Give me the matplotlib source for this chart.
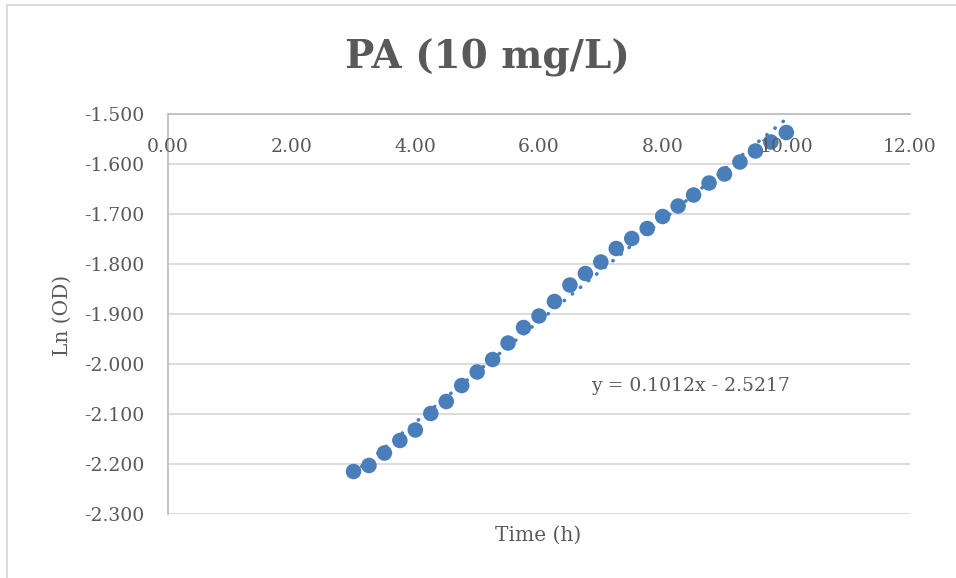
import matplotlib
matplotlib.use("Agg")
import matplotlib.pyplot as plt
from matplotlib.lines import Line2D
import numpy as np

# Growth data: time (h) vs natural log of optical density
time_h = [3.00, 3.25, 3.50, 3.75, 4.00, 4.25, 4.50, 4.75, 5.00, 5.25,
          5.50, 5.75, 6.00, 6.25, 6.50, 6.75, 7.00, 7.25, 7.50, 7.75,
          8.00, 8.25, 8.50, 8.75, 9.00, 9.25, 9.50, 9.75, 10.00]
ln_od = [-2.215, -2.203, -2.178, -2.153, -2.132, -2.099, -2.075, -2.043, -2.016, -1.991,
         -1.958, -1.927, -1.904, -1.875, -1.842, -1.819, -1.796, -1.769, -1.749, -1.729,
         -1.705, -1.684, -1.662, -1.638, -1.620, -1.596, -1.574, -1.556, -1.537]

# Linear trendline coefficients
slope = 0.1012
intercept = -2.5217

x_ticks = [0, 2, 4, 6, 8, 10, 12]
y_ticks = [-2.3, -2.2, -2.1, -2.0, -1.9, -1.8, -1.7, -1.6, -1.5]

title = "PA (10 mg/L)"
x_label = "Time (h)"
y_label = "Ln (OD)"

blue = "#4a7ebb"
text_gray = "#595959"
grid_gray = "#d9d9d9"
serif = "DejaVu Serif"

fig = plt.figure(figsize=(9.56, 5.78), dpi=100)
ax = fig.add_axes([168 / 956, 1 - 514 / 578, (910 - 168) / 956, (514 - 114) / 578])

ax.set_xlim(0, 12)
ax.set_ylim(-2.3, -1.5)

# horizontal gridlines behind the markers
for yv in y_ticks:
    ax.axhline(yv, color=grid_gray, lw=1.3, zorder=0.5)

ax.scatter(time_h, ln_od, s=125, color=blue, edgecolors="none", zorder=2)

tx = np.array([time_h[0], time_h[-1]])
ax.plot(tx, slope * tx + intercept, color=blue, lw=2.6,
        linestyle=(0, (0.1, 2.8)), dash_capstyle="round", zorder=3)

for side in ["right", "bottom"]:
    ax.spines[side].set_visible(False)
ax.spines["left"].set_color("#bfbfbf")
ax.spines["top"].set_color("#bfbfbf")
ax.spines["left"].set_linewidth(1.3)
ax.spines["top"].set_linewidth(1.3)
ax.set_axisbelow(False)

ax.set_xticks(x_ticks)
ax.set_xticklabels([f"{v:.2f}" for v in x_ticks])
ax.set_yticks(y_ticks)
ax.set_yticklabels([f"{v:.3f}" for v in y_ticks])
ax.xaxis.tick_top()
ax.tick_params(axis="x", length=0, pad=-17, labelsize=13.5, labelcolor=text_gray)
ax.tick_params(axis="y", length=0, pad=17, labelsize=13.5, labelcolor=text_gray)
for lab in ax.get_xticklabels():
    lab.set_verticalalignment("top")
    lab.set_fontfamily(serif)
for lab in ax.get_yticklabels():
    lab.set_fontfamily(serif)

ax.text(8.45, -2.043, f"y = {slope:.4f}x - {abs(intercept):.4f}", ha="center", va="center",
        fontsize=13.5, color=text_gray, family=serif, zorder=4)

fig.text(487 / 956, 1 - 58 / 578, title, ha="center", va="center", fontsize=28,
         fontweight="bold", color=text_gray, family=serif)
fig.text(538 / 956, 1 - 535 / 578, x_label, ha="center", va="center", fontsize=14.5,
         color=text_gray, family=serif)
fig.text(62 / 956, 1 - 315 / 578, y_label, ha="center", va="center", rotation=90,
         fontsize=14.5, color=text_gray, family=serif)

# chart area border
fig.add_artist(Line2D([7 / 956, 7 / 956], [0, 1 - 5 / 578], transform=fig.transFigure,
                      color=grid_gray, lw=1.3))
fig.add_artist(Line2D([7 / 956, 1], [1 - 5 / 578, 1 - 5 / 578], transform=fig.transFigure,
                      color=grid_gray, lw=1.3))

fig.savefig("out.png", dpi=100)
